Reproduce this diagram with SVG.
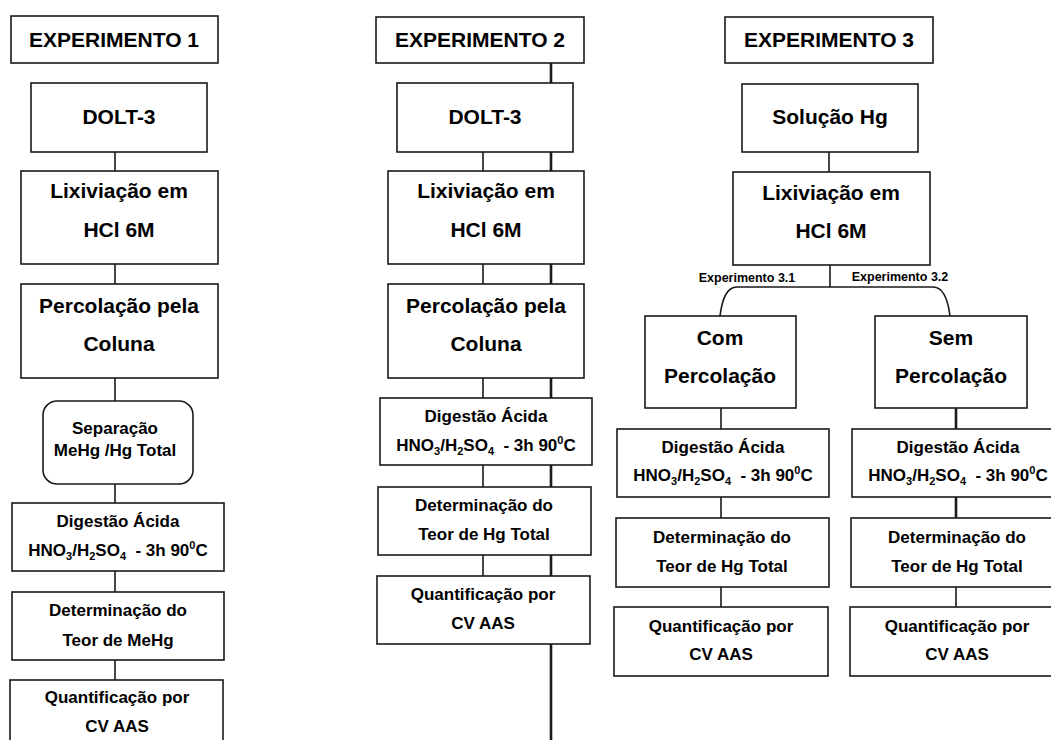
<svg xmlns="http://www.w3.org/2000/svg" width="1051" height="740" viewBox="0 0 1051 740">
<style>
.b{fill:#fff;stroke:#1a1a1a;stroke-width:1.6}
.c{fill:none;stroke:#1a1a1a;stroke-width:1.6}
.ct{fill:none;stroke:#1a1a1a;stroke-width:2.6}
text{font-family:"Liberation Sans",Arial,sans-serif;font-weight:bold;fill:#000;text-anchor:middle}
.h{font-size:21px}
.l{font-size:21px}
.s{font-size:17px}
.e{font-size:12.5px}
.sub{font-size:11px}
</style>
<rect width="1051" height="740" fill="#fff"/>
<g id="connectors">
<line class="c" x1="115" y1="152" x2="115" y2="171"/>
<line class="c" x1="115" y1="264" x2="115" y2="284"/>
<line class="c" x1="115" y1="378" x2="115" y2="401"/>
<line class="c" x1="115" y1="484" x2="115" y2="503"/>
<line class="c" x1="115" y1="571" x2="115" y2="592"/>
<line class="c" x1="115" y1="660" x2="115" y2="680"/>
<line class="ct" x1="551" y1="63" x2="551" y2="740"/>
<line class="c" x1="483" y1="152" x2="483" y2="171"/>
<line class="c" x1="483" y1="264" x2="483" y2="284"/>
<line class="c" x1="483" y1="378" x2="483" y2="398"/>
<line class="c" x1="483" y1="465" x2="483" y2="487"/>
<line class="c" x1="483" y1="555" x2="483" y2="576"/>
<line class="c" x1="829" y1="152" x2="829" y2="172"/>
<line class="c" x1="830" y1="265" x2="830" y2="287"/>
<path class="c" d="M720,316 C722,300 726,287 737,287 L933,287 C943,287 948,300 950,316"/>
<line class="c" x1="721" y1="408" x2="721" y2="429"/>
<line class="c" x1="721" y1="497" x2="721" y2="518"/>
<line class="c" x1="721" y1="587" x2="721" y2="607"/>
<line class="ct" x1="956" y1="408" x2="956" y2="429"/>
<line class="ct" x1="956" y1="497" x2="956" y2="518"/>
<line class="c" x1="956" y1="587" x2="956" y2="607"/>
<text class="e" x="747" y="282">Experimento 3.1</text>
<text class="e" x="900" y="281">Experimento 3.2</text>
</g>
<g id="exp1">
<rect class="b" x="11" y="16" width="207" height="47"/>
<text class="h" x="114" y="47">EXPERIMENTO 1</text>
</g>
<g id="dolt1">
<rect class="b" x="31" y="83" width="176" height="69"/>
<text class="l" x="119" y="124">DOLT-3</text>
</g>
<g id="lix1">
<rect class="b" x="21" y="171" width="197" height="93"/>
<text class="l" x="119" y="198">Lixiviação em</text>
<text class="l" x="119" y="237">HCl 6M</text>
</g>
<g id="perc1">
<rect class="b" x="21" y="284" width="197" height="94"/>
<text class="l" x="119" y="313">Percolação pela</text>
<text class="l" x="119" y="351">Coluna</text>
</g>
<g id="sep1">
<rect class="b" x="43" y="401" width="150" height="83" rx="14"/>
<text class="s" x="115" y="434">Separação</text>
<text class="s" x="115" y="456">MeHg /Hg Total</text>
</g>
<g id="dig1">
<rect class="b" x="12" y="503" width="212" height="68"/>
<text class="s" x="118" y="527">Digestão Ácida</text>
<text class="s" x="118" y="556">HNO<tspan class="sub" dy="4">3</tspan><tspan dy="-4">/H</tspan><tspan class="sub" dy="4">2</tspan><tspan dy="-4">SO</tspan><tspan class="sub" dy="4">4</tspan><tspan dy="-4" xml:space="preserve">  - 3h 90</tspan><tspan class="sub" dy="-7">0</tspan><tspan dy="7">C</tspan></text>
</g>
<g id="det1">
<rect class="b" x="12" y="592" width="212" height="68"/>
<text class="s" x="118" y="616">Determinação do</text>
<text class="s" x="118" y="646">Teor de MeHg</text>
</g>
<g id="quant1">
<rect class="b" x="10" y="680" width="213" height="75"/>
<text class="s" x="117" y="703">Quantificação por</text>
<text class="s" x="117" y="732">CV AAS</text>
</g>
<g id="exp2">
<rect class="b" x="376" y="17" width="208" height="46"/>
<text class="h" x="480" y="47">EXPERIMENTO 2</text>
</g>
<g id="dolt2">
<rect class="b" x="397" y="83" width="176" height="69"/>
<text class="l" x="485" y="124">DOLT-3</text>
</g>
<g id="lix2">
<rect class="b" x="388" y="171" width="196" height="93"/>
<text class="l" x="486" y="198">Lixiviação em</text>
<text class="l" x="486" y="237">HCl 6M</text>
</g>
<g id="perc2">
<rect class="b" x="388" y="284" width="196" height="94"/>
<text class="l" x="486" y="313">Percolação pela</text>
<text class="l" x="486" y="351">Coluna</text>
</g>
<g id="dig2">
<rect class="b" x="380" y="398" width="212" height="67"/>
<text class="s" x="486" y="422">Digestão Ácida</text>
<text class="s" x="486" y="451">HNO<tspan class="sub" dy="4">3</tspan><tspan dy="-4">/H</tspan><tspan class="sub" dy="4">2</tspan><tspan dy="-4">SO</tspan><tspan class="sub" dy="4">4</tspan><tspan dy="-4" xml:space="preserve">  - 3h 90</tspan><tspan class="sub" dy="-7">0</tspan><tspan dy="7">C</tspan></text>
</g>
<g id="det2">
<rect class="b" x="378" y="487" width="213" height="68"/>
<text class="s" x="484" y="511">Determinação do</text>
<text class="s" x="484" y="540">Teor de Hg Total</text>
</g>
<g id="quant2">
<rect class="b" x="377" y="576" width="213" height="68"/>
<text class="s" x="483" y="600">Quantificação por</text>
<text class="s" x="483" y="629">CV AAS</text>
</g>
<g id="exp3">
<rect class="b" x="725" y="17" width="208" height="46"/>
<text class="h" x="829" y="47">EXPERIMENTO 3</text>
</g>
<g id="sol3">
<rect class="b" x="742" y="84" width="176" height="68"/>
<text class="l" x="830" y="124">Solução Hg</text>
</g>
<g id="lix3">
<rect class="b" x="733" y="172" width="197" height="93"/>
<text class="l" x="831" y="200">Lixiviação em</text>
<text class="l" x="831" y="238">HCl 6M</text>
</g>
<g id="com31">
<rect class="b" x="645" y="316" width="151" height="92"/>
<text class="l" x="720" y="345">Com</text>
<text class="l" x="720" y="383">Percolação</text>
</g>
<g id="sem32">
<rect class="b" x="875" y="316" width="152" height="92"/>
<text class="l" x="951" y="345">Sem</text>
<text class="l" x="951" y="383">Percolação</text>
</g>
<g id="dig31">
<rect class="b" x="617" y="429" width="212" height="68"/>
<text class="s" x="723" y="453">Digestão Ácida</text>
<text class="s" x="723" y="481">HNO<tspan class="sub" dy="4">3</tspan><tspan dy="-4">/H</tspan><tspan class="sub" dy="4">2</tspan><tspan dy="-4">SO</tspan><tspan class="sub" dy="4">4</tspan><tspan dy="-4" xml:space="preserve">  - 3h 90</tspan><tspan class="sub" dy="-7">0</tspan><tspan dy="7">C</tspan></text>
</g>
<g id="dig32">
<rect class="b" x="852" y="429" width="213" height="68"/>
<text class="s" x="958" y="453">Digestão Ácida</text>
<text class="s" x="958" y="481">HNO<tspan class="sub" dy="4">3</tspan><tspan dy="-4">/H</tspan><tspan class="sub" dy="4">2</tspan><tspan dy="-4">SO</tspan><tspan class="sub" dy="4">4</tspan><tspan dy="-4" xml:space="preserve">  - 3h 90</tspan><tspan class="sub" dy="-7">0</tspan><tspan dy="7">C</tspan></text>
</g>
<g id="det31">
<rect class="b" x="616" y="518" width="213" height="69"/>
<text class="s" x="722" y="543">Determinação do</text>
<text class="s" x="722" y="572">Teor de Hg Total</text>
</g>
<g id="det32">
<rect class="b" x="851" y="518" width="214" height="69"/>
<text class="s" x="957" y="543">Determinação do</text>
<text class="s" x="957" y="572">Teor de Hg Total</text>
</g>
<g id="quant31">
<rect class="b" x="614" y="607" width="214" height="69"/>
<text class="s" x="721" y="632">Quantificação por</text>
<text class="s" x="721" y="660">CV AAS</text>
</g>
<g id="quant32">
<rect class="b" x="850" y="607" width="215" height="69"/>
<text class="s" x="957" y="632">Quantificação por</text>
<text class="s" x="957" y="660">CV AAS</text>
</g>
</svg>
